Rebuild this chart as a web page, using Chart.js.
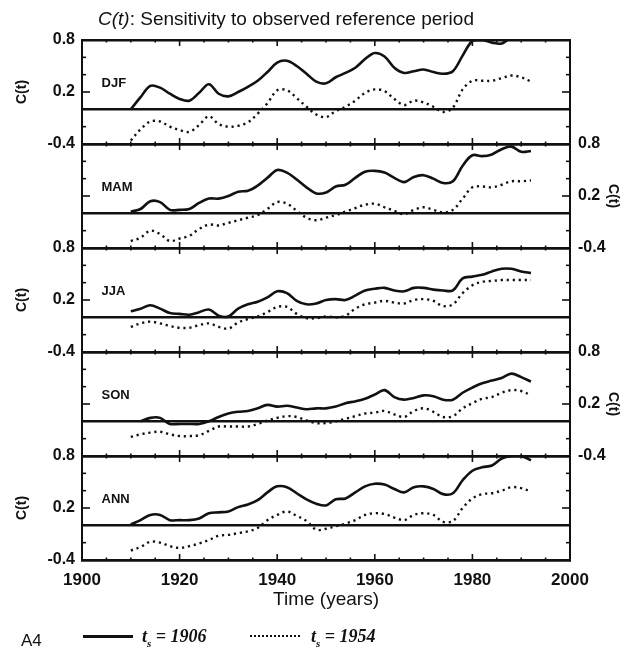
<!DOCTYPE html>
<html>
<head>
<meta charset="utf-8">
<script src="https://cdn.jsdelivr.net/npm/chart.js"></script>
<style>
  body { margin: 0; background: #fff; }
  #wrap { position: relative; width: 624px; height: 649px; font-family: "Liberation Sans", Arial, sans-serif; color: #111; }
  #wrap canvas { position: absolute; left: 0; top: 0; }
  .title { position: absolute; left: 98px; top: 9px; font-size: 19px; line-height: 19px; white-space: nowrap; }
  .fig { position: absolute; left: 21px; top: 632px; font-size: 17px; line-height: 17px; }
  .key { position: absolute; top: 626px; font: italic bold 18px "Liberation Serif", serif; line-height: 20px; white-space: nowrap; }
  .key sub { font-size: 11px; }
  .swatch { position: absolute; top: 635px; width: 50px; height: 0; }
</style>
</head>
<body>
<div id="wrap">
  <canvas id="myChart"></canvas>
  <div class="title"><i>C(t)</i>: Sensitivity to observed reference period</div>
  <div class="fig">A4</div>
  <div class="swatch" style="left:83px;border-top:3px solid #111"></div>
  <div class="key" style="left:142px">t<sub>s</sub> = 1906</div>
  <div class="swatch" style="left:250px;border-top:2px dotted #111"></div>
  <div class="key" style="left:311px">t<sub>s</sub> = 1954</div>
</div>
<script>
// years shared by every curve (2-year steps)
const years = [1910, 1912, 1914, 1916, 1918, 1920, 1922, 1924, 1926, 1928,
  1930, 1932, 1934, 1936, 1938, 1940, 1942, 1944, 1946, 1948,
  1950, 1952, 1954, 1956, 1958, 1960, 1962, 1964, 1966, 1968,
  1970, 1972, 1974, 1976, 1978, 1980, 1982, 1984, 1986, 1988, 1990, 1992];

const seasons = ['DJF', 'MAM', 'JJA', 'SON', 'ANN'];

// C(t) with reference period starting 1906 (solid) and 1954 (dotted)
const djf1906 = [0.00, 0.14, 0.27, 0.25, 0.18, 0.12, 0.10, 0.19, 0.29, 0.18, 0.15, 0.20, 0.26, 0.33, 0.43, 0.54, 0.56, 0.50, 0.41, 0.32, 0.30, 0.37, 0.42, 0.48, 0.58, 0.65, 0.61, 0.48, 0.42, 0.44, 0.46, 0.43, 0.41, 0.44, 0.62, 0.79, 0.80, 0.77, 0.76, 0.83, 0.84, 0.82];
const djf1954 = [-0.36, -0.23, -0.14, -0.14, -0.20, -0.24, -0.26, -0.18, -0.08, -0.17, -0.20, -0.19, -0.15, -0.05, 0.07, 0.22, 0.22, 0.13, 0.03, -0.06, -0.09, -0.02, 0.03, 0.10, 0.19, 0.23, 0.21, 0.12, 0.05, 0.10, 0.08, 0.03, -0.03, 0.02, 0.23, 0.33, 0.33, 0.33, 0.36, 0.39, 0.37, 0.32];
const mam1906 = [0.02, 0.05, 0.14, 0.13, 0.04, 0.04, 0.05, 0.12, 0.17, 0.17, 0.20, 0.25, 0.26, 0.32, 0.41, 0.50, 0.47, 0.39, 0.30, 0.23, 0.24, 0.31, 0.33, 0.41, 0.48, 0.49, 0.47, 0.41, 0.36, 0.42, 0.44, 0.40, 0.35, 0.37, 0.55, 0.67, 0.66, 0.68, 0.74, 0.77, 0.71, 0.72];
const mam1954 = [-0.32, -0.28, -0.20, -0.24, -0.32, -0.29, -0.26, -0.18, -0.13, -0.14, -0.11, -0.08, -0.05, -0.02, 0.05, 0.13, 0.11, 0.03, -0.05, -0.08, -0.05, -0.02, 0.02, 0.06, 0.10, 0.11, 0.07, 0.03, -0.01, 0.04, 0.07, 0.04, 0.01, 0.04, 0.17, 0.30, 0.31, 0.30, 0.33, 0.37, 0.37, 0.38];
const jja1906 = [0.07, 0.10, 0.14, 0.10, 0.05, 0.04, 0.03, 0.06, 0.09, 0.02, 0.01, 0.10, 0.15, 0.18, 0.23, 0.30, 0.28, 0.19, 0.15, 0.16, 0.20, 0.21, 0.20, 0.25, 0.31, 0.33, 0.34, 0.31, 0.30, 0.34, 0.34, 0.32, 0.31, 0.31, 0.45, 0.47, 0.49, 0.53, 0.56, 0.56, 0.53, 0.51];
const jja1954 = [-0.11, -0.07, -0.05, -0.07, -0.10, -0.12, -0.12, -0.09, -0.07, -0.11, -0.13, -0.06, -0.02, 0.01, 0.06, 0.12, 0.12, 0.04, -0.01, -0.01, 0.01, 0.00, 0.02, 0.10, 0.15, 0.17, 0.19, 0.17, 0.16, 0.20, 0.21, 0.19, 0.13, 0.15, 0.28, 0.37, 0.41, 0.42, 0.43, 0.43, 0.43, 0.43];
const son1906 = [null, 0.00, 0.04, 0.04, -0.03, -0.03, -0.03, -0.03, 0.00, 0.05, 0.09, 0.11, 0.12, 0.15, 0.19, 0.17, 0.18, 0.16, 0.14, 0.15, 0.15, 0.17, 0.21, 0.23, 0.26, 0.31, 0.36, 0.28, 0.25, 0.27, 0.30, 0.29, 0.25, 0.25, 0.33, 0.39, 0.44, 0.47, 0.50, 0.55, 0.51, 0.46];
const son1954 = [-0.18, -0.15, -0.13, -0.12, -0.15, -0.17, -0.17, -0.16, -0.11, -0.06, -0.06, -0.06, -0.06, -0.03, 0.01, 0.04, 0.06, 0.05, 0.01, -0.02, -0.02, 0.00, 0.03, 0.06, 0.09, 0.10, 0.12, 0.08, 0.05, 0.12, 0.15, 0.11, 0.05, 0.06, 0.15, 0.21, 0.26, 0.28, 0.33, 0.36, 0.35, 0.30];
const ann1906 = [0.01, 0.06, 0.12, 0.12, 0.06, 0.06, 0.06, 0.08, 0.14, 0.15, 0.16, 0.21, 0.24, 0.29, 0.38, 0.45, 0.44, 0.37, 0.30, 0.25, 0.23, 0.30, 0.31, 0.38, 0.45, 0.48, 0.47, 0.42, 0.38, 0.44, 0.45, 0.42, 0.36, 0.37, 0.52, 0.63, 0.67, 0.69, 0.77, 0.80, 0.80, 0.75];
const ann1954 = [-0.29, -0.25, -0.19, -0.20, -0.24, -0.26, -0.24, -0.21, -0.17, -0.12, -0.11, -0.09, -0.07, -0.03, 0.06, 0.12, 0.16, 0.11, 0.05, -0.05, -0.04, -0.01, 0.02, 0.06, 0.12, 0.14, 0.13, 0.09, 0.06, 0.12, 0.14, 0.12, 0.04, 0.05, 0.20, 0.31, 0.36, 0.37, 0.40, 0.44, 0.43, 0.39];

const solidSeries = [djf1906, mam1906, jja1906, son1906, ann1906];
const dottedSeries = [djf1954, mam1954, jja1954, son1954, ann1954];

const yTickLabels = [0.8, 0.2, -0.4]; // labelled values on each panel axis
const xTickStep = 20;

const ink = '#111';
const isNear = (a, b) => Math.abs(a - b) < 1e-6;
const points = arr => years.map((x, i) => ({ x: x, y: arr[i] }));

// one solid and one dotted curve per panel, each on its own stacked y axis
const datasets = [];
seasons.forEach((name, i) => {
  datasets.push({
    label: name + ' ts=1906',
    data: points(solidSeries[i]),
    yAxisID: 'y' + i,
    borderColor: ink,
    borderWidth: 2.6,
    pointRadius: 0,
    tension: 0.35
  });
  datasets.push({
    label: name + ' ts=1954',
    data: points(dottedSeries[i]),
    yAxisID: 'y' + i,
    borderColor: ink,
    borderWidth: 2.4,
    borderDash: [2.2, 3.8],
    pointRadius: 0,
    tension: 0.35
  });
});

// axis for one panel, left or right side of the frame
function panelAxis(position, i, showLabels) {
  const left = position === 'left';
  return {
    type: 'linear',
    position: position,
    stack: position,
    stackWeight: 1,
    weight: left ? 10 - i : i,
    min: -0.4,
    max: 0.8,
    ticks: {
      stepSize: 0.2,
      autoSkip: false,
      display: showLabels,
      padding: left ? 7 : 8,
      color: ink,
      font: { family: '"Liberation Sans"', size: 16, weight: 'bold' },
      callback: v => yTickLabels.some(t => isNear(t, v)) ? v.toFixed(1) : ''
    },
    grid: {
      drawTicks: false,
      drawOnChartArea: left,
      color: ctx => (isNear(ctx.tick.value, 0) || isNear(ctx.tick.value, 0.8) || isNear(ctx.tick.value, -0.4)) ? ink : 'rgba(0,0,0,0)',
      lineWidth: ctx => isNear(ctx.tick.value, 0) ? 2.6 : 2.4
    },
    border: { display: true, color: ink, width: 2 },
    title: {
      display: showLabels,
      text: 'C(t)',
      color: ink,
      font: { family: '"Liberation Sans"', size: 14, weight: 'bold' },
      padding: { top: left ? 14 : 3, bottom: 0 }
    },
    afterFit: scale => { scale.width = left ? 82 : 54; }
  };
}

const scales = {
  x: {
    type: 'linear',
    min: 1900,
    max: 2000,
    ticks: {
      stepSize: xTickStep,
      padding: 2,
      color: ink,
      font: { family: '"Liberation Sans"', size: 17, weight: 'bold' },
      callback: v => String(v)
    },
    grid: { display: false },
    border: { display: true, color: ink, width: 2.4 },
    title: {
      display: true,
      text: 'Time (years)',
      color: ink,
      font: { family: '"Liberation Sans"', size: 19 },
      padding: { top: 0, bottom: 2 }
    },
    afterFit: scale => { scale.height = 53; }
  }
};
seasons.forEach((name, i) => {
  scales['y' + i] = panelAxis('left', i, i % 2 === 0);
  scales['r' + i] = panelAxis('right', i, i % 2 === 1);
});

// inner tick marks, boundary ticks and panel names
const panelMarks = {
  id: 'panelMarks',
  afterDatasetsDraw(chart) {
    const { ctx, chartArea: area, scales: s } = chart;
    const xs = s.x;
    const seg = (x1, y1, x2, y2) => { ctx.beginPath(); ctx.moveTo(x1, y1); ctx.lineTo(x2, y2); ctx.stroke(); };
    ctx.save();
    ctx.strokeStyle = ink;
    ctx.fillStyle = ink;
    ctx.lineWidth = 1.6;
    seasons.forEach((name, i) => {
      const ys = s['y' + i];
      ys.ticks.forEach(t => {
        if (t.value <= ys.min + 1e-6 || t.value >= ys.max - 1e-6 || isNear(t.value, 0)) return;
        const py = ys.getPixelForValue(t.value);
        const len = isNear(t.value, 0.2) ? 8 : 4;
        seg(area.left, py, area.left + len, py);
        seg(area.right, py, area.right - len, py);
      });
      const edges = [[ys.getPixelForValue(ys.max), i === 0 ? 0 : 1, 1]];
      if (i === seasons.length - 1) edges.push([ys.getPixelForValue(ys.min), 1, 0]);
      edges.forEach(([py, up, down]) => {
        for (let yr = xs.min + 5; yr < xs.max; yr += 5) {
          const px = xs.getPixelForValue(yr);
          const len = yr % xTickStep === 0 ? 6 : 2.5;
          seg(px, py - len * up, px, py + len * down);
        }
      });
      ctx.font = 'bold 13px "Liberation Sans"';
      ctx.textBaseline = 'middle';
      ctx.fillText(name, xs.getPixelForValue(1904), ys.getPixelForValue(0.3));
    });
    ctx.restore();
  }
};

const config = {
  type: 'line',
  data: { datasets: datasets },
  options: {
    responsive: true,
    maintainAspectRatio: false,
    animation: false,
    layout: { padding: { top: 40, bottom: 36, left: 0, right: 0 } },
    plugins: {
      legend: { display: false },
      tooltip: { enabled: false }
    },
    scales: scales
  },
  plugins: [panelMarks]
};

const ctx = document.getElementById('myChart').getContext('2d');
const myChart = new Chart(ctx, config);
</script>
</body>
</html>
